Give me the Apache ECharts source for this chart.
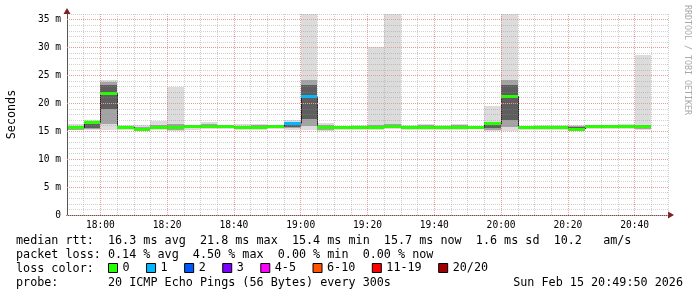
<!DOCTYPE html>
<html><head><meta charset="utf-8">
<script src="https://cdn.jsdelivr.net/npm/echarts@6/dist/echarts.min.js"></script>
<style>html,body{margin:0;padding:0;background:#fff}#c{width:697px;height:297px}</style>
</head><body><div id="c"></div>
<script>
// ---- data ----
const times = ['17:50','17:55','18:00','18:05','18:10','18:15','18:20','18:25','18:30','18:35','18:40','18:45','18:50','18:55',
  '19:00','19:05','19:10','19:15','19:20','19:25','19:30','19:35','19:40','19:45','19:50','19:55',
  '20:00','20:05','20:10','20:15','20:20','20:25','20:30','20:35','20:40'];
const medianRtt = [15.6,16.5,21.8,15.7,15.4,15.7,15.6,15.8,15.8,15.8,15.7,15.6,15.8,16.4,21.2,15.6,15.6,15.7,15.7,15.8,15.6,15.6,15.6,15.7,15.7,16.3,21.3,15.6,15.7,15.6,15.4,15.8,15.8,15.8,15.8];
const lossIndex = [0,0,0,0,0,0,0,0,0,0,0,0,0,1,1,0,0,0,0,0,0,0,0,0,0,0,0,0,0,0,0,0,0,0,0];
const smokeMin = [15.2,15.2,15.2,15.3,15.1,15.3,15.1,15.3,15.4,15.4,15.2,15.3,15.4,15.2,15.2,15.1,15.3,15.3,15.3,15.4,15.3,15.3,15.3,15.3,15.4,15.1,15.0,15.3,15.3,15.3,15.1,15.4,15.4,15.4,15.3];
const smokeP10 = [15.3,15.4,16.3,15.4,15.2,15.4,15.3,15.5,15.5,15.5,15.4,15.4,15.5,15.5,16.0,15.3,15.4,15.5,15.4,15.5,15.4,15.4,15.4,15.4,15.5,15.3,15.8,15.4,15.4,15.4,15.2,15.5,15.5,15.5,15.4];
const smokeP25 = [15.5,15.6,18.9,15.6,15.3,15.6,15.4,15.7,15.7,15.7,15.5,15.5,15.7,15.7,17.2,15.5,15.5,15.7,15.6,15.6,15.5,15.5,15.5,15.6,15.6,15.6,17.1,15.5,15.5,15.5,15.3,15.7,15.7,15.7,15.6];
const smokeP75 = [15.8,16.3,23.3,15.9,15.6,15.9,15.8,15.9,16.1,15.9,15.8,15.8,15.9,16.2,23.3,15.9,15.8,15.9,15.9,15.9,15.9,16.0,15.8,15.9,15.9,16.1,23.3,15.8,15.9,15.8,15.7,15.9,15.9,16.0,15.9];
const smokeP90 = [16.0,16.8,23.8,16.0,15.8,16.2,16.3,16.0,16.3,16.0,16.0,16.1,15.95,16.6,24.1,16.2,15.9,16.0,16.2,16.3,16.0,16.1,16.0,16.1,15.95,16.5,24.1,15.9,16.0,16.0,15.9,15.95,16.0,16.1,16.2];
const smokeMax = [16.3,17.1,24.1,16.1,16.1,16.9,22.9,16.1,16.6,16.1,16.3,16.3,16.0,17.0,36,16.4,16.0,16.1,30.1,36,16.2,16.3,16.1,16.3,16.0,19.6,36,16.0,16.1,16.2,16.1,16.0,16.1,16.3,28.7];
const stepMinutes = 5;
const xTickLabels = ['18:00','18:20','18:40','19:00','19:20','19:40','20:00','20:20','20:40'];
const yTickLabels = ['0','5 m','10 m','15 m','20 m','25 m','30 m','35 m'];
const lossLabels = ['0','1','2','3','4-5','6-10','11-19','20/20'];
const lossColors = ['#26ff00','#00b8ff','#0059ff','#7e00ff','#ff00ff','#ff5500','#ff0000','#a10000'];
const legendLines = [
  'median rtt:  16.3 ms avg  21.8 ms max  15.4 ms min  15.7 ms now  1.6 ms sd  10.2   am/s',
  'packet loss: 0.14 % avg  4.50 % max  0.00 % min  0.00 % now',
  'loss color:',
  'probe:       20 ICMP Echo Pings (56 Bytes) every 300s'
];
const stamp = 'Sun Feb 15 20:49:50 2026';
const watermark = 'RRDTOOL / TOBI OETIKER';

// ---- styles ----
const MONO = "'DejaVu Sans Mono', monospace";
const SMOKE = ['#dcdcdc', '#a4a4a4', '#5e5e5e'];
const MINOR = 'rgba(143,143,143,0.42)';
const MAJOR = 'rgba(228,90,90,0.6)';
const ARROW = '#801f1f';
const AXIS = '#555555';
const FS = 11.75;

const toMin = s => { const p = s.split(':'); return (+p[0]) * 60 + (+p[1]); };
const data = times.map((t, i) => {
  const s = toMin(t);
  return [s, s + stepMinutes, smokeMin[i], smokeP10[i], smokeP25[i], smokeP75[i], smokeP90[i], smokeMax[i],
          medianRtt[i], i > 0 ? medianRtt[i - 1] : medianRtt[i], lossIndex[i]];
});

function renderItem(params, api) {
  const xs = api.value(0), xe = api.value(1);
  const L = Math.round(api.coord([xs, 0])[0]);
  const R = Math.round(api.coord([xe, 0])[0]);
  const yOf = v => api.coord([xs, v])[1];
  const rect = (a, b, fill) => {
    const y1 = Math.round(yOf(b)), y2 = Math.round(yOf(a));
    return { type: 'rect', shape: { x: L, y: y1, width: R - L, height: Math.max(1, y2 - y1) }, style: { fill } };
  };
  const children = [
    rect(api.value(2), api.value(7), SMOKE[0]),
    rect(api.value(3), api.value(6), SMOKE[1]),
    rect(api.value(4), api.value(5), SMOKE[2])
  ];
  const med = yOf(api.value(8));
  const prev = yOf(api.value(9));
  children.push({ type: 'line', shape: { x1: L + 0.5, y1: prev, x2: L + 0.5, y2: med }, style: { stroke: '#202020', lineWidth: 1 } });
  children.push({ type: 'rect', shape: { x: L, y: Math.round(med - 1.5), width: R - L, height: 3 }, style: { fill: lossColors[api.value(10)] } });
  return { type: 'group', children };
}

const chart = echarts.init(document.getElementById('c'), null, { renderer: 'canvas' });
const textStyleBase = { font: FS + 'px ' + MONO, fill: '#000', verticalAlign: 'middle' };
const series = [{
  type: 'custom', renderItem, data, z: 2,
  encode: { x: [0, 1], y: [2, 7] }, clip: true, silent: true
}];
lossLabels.forEach((n, i) => series.push({ type: 'line', name: n, data: [], itemStyle: { color: lossColors[i] }, lineStyle: { color: lossColors[i] } }));

const hidden = { axisTick: { show: false }, axisLabel: { show: false } };
chart.setOption({
  animation: false,
  backgroundColor: '#ffffff',
  grid: { left: 67, right: 29, top: 14, bottom: 82, containLabel: false, outerBoundsMode: 'none' },
  xAxis: [
    { type: 'value', min: 1070, max: 1250, interval: 5, z: 3, position: 'bottom',
      axisLine: { show: true, onZero: false, lineStyle: { color: AXIS, width: 1 } },
      axisTick: { show: false },
      axisLabel: { margin: 5, color: '#000', fontFamily: MONO, fontSize: 9.6,
        formatter: v => (v % 20 === 0 && v >= 1080) ? (xTickLabels[(v - 1080) / 20] || '') : '' },
      splitLine: { show: true, lineStyle: { color: [MINOR, MINOR, MAJOR, MINOR], type: [1, 1], width: 1 } } },
    Object.assign({ type: 'value', min: 1070, max: 1250, interval: 5, z: 1, position: 'bottom',
      axisLine: { show: true, onZero: false, symbol: ['none', 'triangle'], symbolSize: [7, 6], symbolOffset: [0, 3], lineStyle: { color: ARROW } },
      splitLine: { show: false } }, hidden)
  ],
  yAxis: [
    { type: 'value', min: 0, max: 36, interval: 1, z: 3, position: 'left',
      name: 'Seconds', nameLocation: 'middle', nameGap: 49, nameRotate: 90,
      nameTextStyle: { fontFamily: MONO, fontSize: FS, color: '#000' },
      axisLine: { show: true, onZero: false, lineStyle: { color: AXIS, width: 1 } },
      axisTick: { show: false },
      axisLabel: { margin: 6, color: '#000', fontFamily: MONO, fontSize: 9.6,
        formatter: v => (v % 5 === 0) ? (yTickLabels[v / 5] || '') : '' },
      splitLine: { show: true, lineStyle: { color: MINOR, type: [1, 1], width: 1 } } },
    Object.assign({ type: 'value', min: 0, max: 36, interval: 1, z: 1, position: 'left',
      axisLine: { show: true, onZero: false, symbol: ['none', 'triangle'], symbolSize: [7, 6], symbolOffset: [0, 3], lineStyle: { color: ARROW } },
      splitLine: { show: false } }, hidden),
    Object.assign({ type: 'value', min: 0, max: 36, interval: 5, z: 4, position: 'left',
      axisLine: { show: false },
      splitLine: { show: true, showMinLine: true, showMaxLine: false, lineStyle: { color: '#eb9a9a', type: [1, 1], width: 1 } } }, hidden)
  ],
  legend: {
    left: 108, top: 262, padding: 0, itemGap: 16.5, itemWidth: 9, itemHeight: 9, icon: 'rect', selectedMode: false,
    itemStyle: { borderColor: '#000', borderWidth: 1 },
    textStyle: { fontFamily: MONO, fontSize: FS, color: '#000', padding: 0 },
    data: lossLabels
  },
  graphic: [
    { type: 'text', x: 16, y: 241, style: Object.assign({ text: legendLines[0] }, textStyleBase) },
    { type: 'text', x: 16, y: 255, style: Object.assign({ text: legendLines[1] }, textStyleBase) },
    { type: 'text', x: 16, y: 269, style: Object.assign({ text: legendLines[2] }, textStyleBase) },
    { type: 'text', x: 16, y: 283, style: Object.assign({ text: legendLines[3] }, textStyleBase) },
    { type: 'text', x: 683, y: 283, style: Object.assign({ text: stamp, align: 'right' }, textStyleBase) },
    { type: 'text', x: 687, y: 60, rotation: -Math.PI / 2,
      style: { text: watermark, font: '8.3px ' + MONO, fill: '#a8a8a8', align: 'center', verticalAlign: 'middle' } }
  ],
  series
});
</script>
</body></html>
